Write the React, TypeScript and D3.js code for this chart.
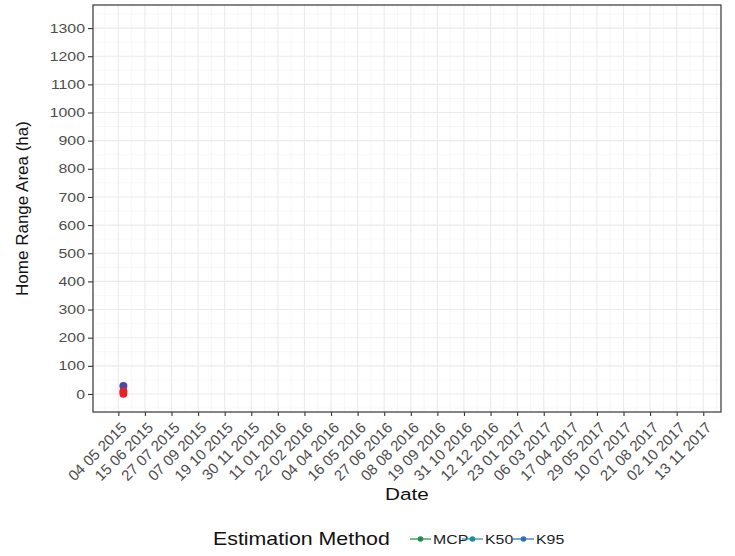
import React, { useEffect, useRef } from 'react'
import * as d3 from 'd3'

const tickDates = [
  '04 05 2015', '15 06 2015', '27 07 2015', '07 09 2015', '19 10 2015', '30 11 2015',
  '11 01 2016', '22 02 2016', '04 04 2016', '16 05 2016', '27 06 2016', '08 08 2016',
  '19 09 2016', '31 10 2016', '12 12 2016', '23 01 2017', '06 03 2017', '17 04 2017',
  '29 05 2017', '10 07 2017', '21 08 2017', '02 10 2017', '13 11 2017',
]
const yTicks = [0, 100, 200, 300, 400, 500, 600, 700, 800, 900, 1000, 1100, 1200, 1300]

const pointDates = ['12 05 2015', '12 05 2015', '12 05 2015']
const pointValues = [28, 10, 1]
const pointGroups = ['blue', 'red', 'red']

const methods = ['MCP', 'K50', 'K95']
const methodColors = ['#238b45', '#1c9099', '#2b6cc4']

// the reference text is stretched sideways a little
const SX = 1.22

export default function App() {
  const ref = useRef<SVGSVGElement | null>(null)

  useEffect(() => {
    if (!ref.current) return
    const svg = d3.select(ref.current)
    svg.selectAll('*').remove()

    const width = 735, height = 556
    const margin = { top: 5, right: 14, bottom: 144, left: 93 }
    const iw = width - margin.left - margin.right
    const ih = height - margin.top - margin.bottom
    const parse = d3.timeParse('%d %m %Y')
    const font = 'Liberation Sans, Arial, sans-serif'

    const t0 = parse(tickDates[0])!
    const t1 = parse(tickDates[tickDates.length - 1])!
    const x = d3.scaleTime()
      .domain([d3.timeDay.offset(t0, -39.5), d3.timeDay.offset(t1, 28)])
      .range([0, iw])
    const y = d3.scaleLinear().domain([-64, 1382]).range([ih, 0])

    const g = svg.append('g').attr('transform', `translate(${margin.left},${margin.top})`)

    // minor grid
    const majors = tickDates.map(d => parse(d)!)
    const minorX: Date[] = majors.map(d => d3.timeDay.offset(d, -21))
    minorX.push(d3.timeDay.offset(majors[majors.length - 1], 21))
    g.append('g').selectAll('line').data(minorX.filter(d => x(d) >= 0 && x(d) <= iw)).enter().append('line')
      .attr('x1', d => x(d)).attr('x2', d => x(d)).attr('y1', 0).attr('y2', ih)
      .attr('stroke', '#f2f2f2').attr('stroke-width', 0.6)
    const minorY = [-50, ...yTicks.map(v => v + 50)].filter(v => y(v) >= 0)
    g.append('g').selectAll('line').data(minorY).enter().append('line')
      .attr('x1', 0).attr('x2', iw).attr('y1', d => y(d)).attr('y2', d => y(d))
      .attr('stroke', '#f2f2f2').attr('stroke-width', 0.6)

    // major grid
    g.append('g').selectAll('line').data(majors).enter().append('line')
      .attr('x1', d => x(d)).attr('x2', d => x(d)).attr('y1', 0).attr('y2', ih)
      .attr('stroke', '#ebebeb').attr('stroke-width', 1.1)
    g.append('g').selectAll('line').data(yTicks).enter().append('line')
      .attr('x1', 0).attr('x2', iw).attr('y1', d => y(d)).attr('y2', d => y(d))
      .attr('stroke', '#ebebeb').attr('stroke-width', 1.1)

    // points
    const pts = pointValues.map((v, i) => ({ date: parse(pointDates[i])!, value: v, group: pointGroups[i] }))
    g.append('g').selectAll('circle').data(pts).enter().append('circle')
      .attr('cx', d => x(d.date)).attr('cy', d => y(d.value)).attr('r', 4)
      .attr('fill', d => d.group === 'blue' ? '#4a4aa8' : '#e3242b')

    // axes
    const xa = g.append('g').attr('transform', `translate(0,${ih})`)
      .call(d3.axisBottom(x).tickValues(majors).tickFormat(d3.timeFormat('%d %m %Y') as any).tickSize(4).tickPadding(3))
    xa.select('.domain').remove()
    xa.selectAll('line').attr('stroke', '#333').attr('stroke-width', 1.1)
    xa.selectAll('text')
      .attr('font-family', font).attr('font-size', 15).attr('fill', '#4d4d4d')
      .attr('text-anchor', 'end').attr('dy', '0.35em')
      .attr('transform', 'translate(5,13) rotate(-45)')
      .attr('y', 0).attr('x', 0)

    const ya = g.append('g')
      .call(d3.axisLeft(y).tickValues(yTicks).tickFormat(d3.format('d') as any).tickSize(5).tickPadding(3))
    ya.select('.domain').remove()
    ya.selectAll('line').attr('stroke', '#333').attr('stroke-width', 1.1)
    ya.selectAll('text').attr('font-family', font).attr('font-size', 13).attr('fill', '#4d4d4d')
      .each(function () {
        const t = d3.select(this)
        const tx = +t.attr('x')
        t.attr('x', 0).attr('transform', `translate(${tx},0) scale(${SX},1)`)
      })

    // border
    g.append('rect').attr('width', iw).attr('height', ih)
      .attr('fill', 'none').attr('stroke', '#444').attr('stroke-width', 1.3)

    // axis titles
    svg.append('text').attr('transform', `translate(${margin.left + iw / 2},500) scale(${SX},1)`)
      .attr('text-anchor', 'middle').attr('font-family', font).attr('font-size', 17).attr('fill', '#111')
      .text('Date')
    svg.append('text').attr('transform', `translate(28,${margin.top + ih / 2}) rotate(-90)`)
      .attr('text-anchor', 'middle').attr('font-family', font).attr('font-size', 17).attr('fill', '#111')
      .text('Home Range Area (ha)')

    // legend
    const lg = svg.append('g').attr('transform', 'translate(0,539)')
    lg.append('text').attr('transform', `translate(213,6) scale(${SX},1)`)
      .attr('font-family', font).attr('font-size', 17.5).attr('fill', '#111')
      .text('Estimation Method')
    const keyX = [410, 462, 513]
    methods.forEach((m, i) => {
      const k = lg.append('g').attr('transform', `translate(${keyX[i]},0)`)
      k.append('line').attr('x1', 0).attr('x2', 21).attr('y1', 0).attr('y2', 0)
        .attr('stroke', methodColors[i]).attr('stroke-width', 1.2)
      k.append('circle').attr('cx', 10.5).attr('cy', 0).attr('r', 2.8).attr('fill', methodColors[i])
      k.append('text').attr('transform', `translate(23,5) scale(${SX},1)`)
        .attr('font-family', font).attr('font-size', 13).attr('fill', '#222')
        .text(m)
    })
  }, [])

  return <svg ref={ref} width={735} height={556} style={{ display: 'block', position: 'absolute', left: 0, top: 0 }} />
}
